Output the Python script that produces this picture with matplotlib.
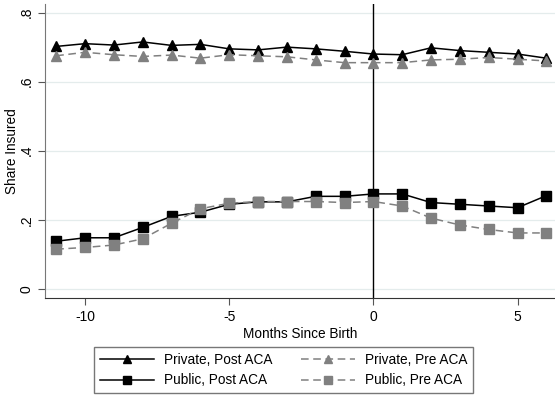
import numpy as np
import matplotlib.pyplot as plt
from matplotlib.ticker import FuncFormatter

plt.rcParams['font.family'] = ['Liberation Sans', 'DejaVu Sans']
plt.rcParams['axes.unicode_minus'] = False

months = np.arange(-11, 7)

private_post = [0.702, 0.710, 0.706, 0.715, 0.705, 0.708, 0.695, 0.692, 0.700, 0.695,
                0.688, 0.680, 0.678, 0.698, 0.690, 0.685, 0.680, 0.668]
private_pre = [0.675, 0.685, 0.678, 0.673, 0.677, 0.668, 0.678, 0.675, 0.672, 0.663,
               0.655, 0.655, 0.655, 0.663, 0.665, 0.670, 0.665, 0.660]
public_post = [0.138, 0.148, 0.148, 0.178, 0.210, 0.222, 0.245, 0.252, 0.252, 0.268,
               0.268, 0.275, 0.275, 0.250, 0.245, 0.240, 0.235, 0.270]
public_pre = [0.115, 0.120, 0.127, 0.145, 0.190, 0.232, 0.248, 0.253, 0.253, 0.253,
              0.250, 0.253, 0.240, 0.205, 0.185, 0.172, 0.162, 0.162]

yticks = [0, 0.2, 0.4, 0.6, 0.8]
xticks = [-10, -5, 0, 5]

fig = plt.figure(figsize=(5.55, 3.95), dpi=100)
ax = fig.add_axes([0.081, 0.245, 0.919, 0.745])

gray = '#808080'
ax.plot(months, private_post, color='black', lw=1.1, marker='^', ms=7,
        label='Private, Post ACA')
ax.plot(months, public_post, color='black', lw=1.1, marker='s', ms=7,
        label='Public, Post ACA')
ax.plot(months, private_pre, color=gray, lw=1.1, ls=(0, (5, 3)), marker='^', ms=7,
        label='Private, Pre ACA')
ax.plot(months, public_pre, color=gray, lw=1.1, ls=(0, (5, 3)), marker='s', ms=7,
        label='Public, Pre ACA')

ax.axvline(0, color='black', lw=1.0, zorder=1)

ax.set_xlim(-11.39, 6.3)
ax.set_ylim(-0.027, 0.825)
ax.set_yticks(yticks)
ax.set_xticks(xticks)
ax.yaxis.set_major_formatter(FuncFormatter(lambda v, p: '0' if v == 0 else ('%.1f' % v).lstrip('0')))
ax.grid(axis='y', color='#e4ecec', lw=0.9)
ax.set_axisbelow(True)
for lab in ax.get_yticklabels():
    lab.set_rotation(90)
    lab.set_va('center')
ax.tick_params(labelsize=10, length=5, color='#555555')
ax.tick_params(axis='y', pad=3)

for s in ['top', 'right']:
    ax.spines[s].set_visible(False)
ax.spines['left'].set_color('#777777')
ax.spines['bottom'].set_color('#333333')

ax.set_xlabel('Months Since Birth', fontsize=9.8, labelpad=2)
ax.set_ylabel('Share Insured', fontsize=9.8)
ax.yaxis.set_label_coords(-0.051, 0.5)

leg = fig.legend(loc='lower center', bbox_to_anchor=(0.511, 0.004), ncol=2, fontsize=9.8,
                 fancybox=False, edgecolor='#555555', handlelength=4.0, handletextpad=0.7,
                 columnspacing=2.1, borderpad=0.45, labelspacing=0.45, markerscale=0.85,
                 borderaxespad=0)
leg.get_frame().set_linewidth(1.0)

fig.savefig('out.png', dpi=100)
